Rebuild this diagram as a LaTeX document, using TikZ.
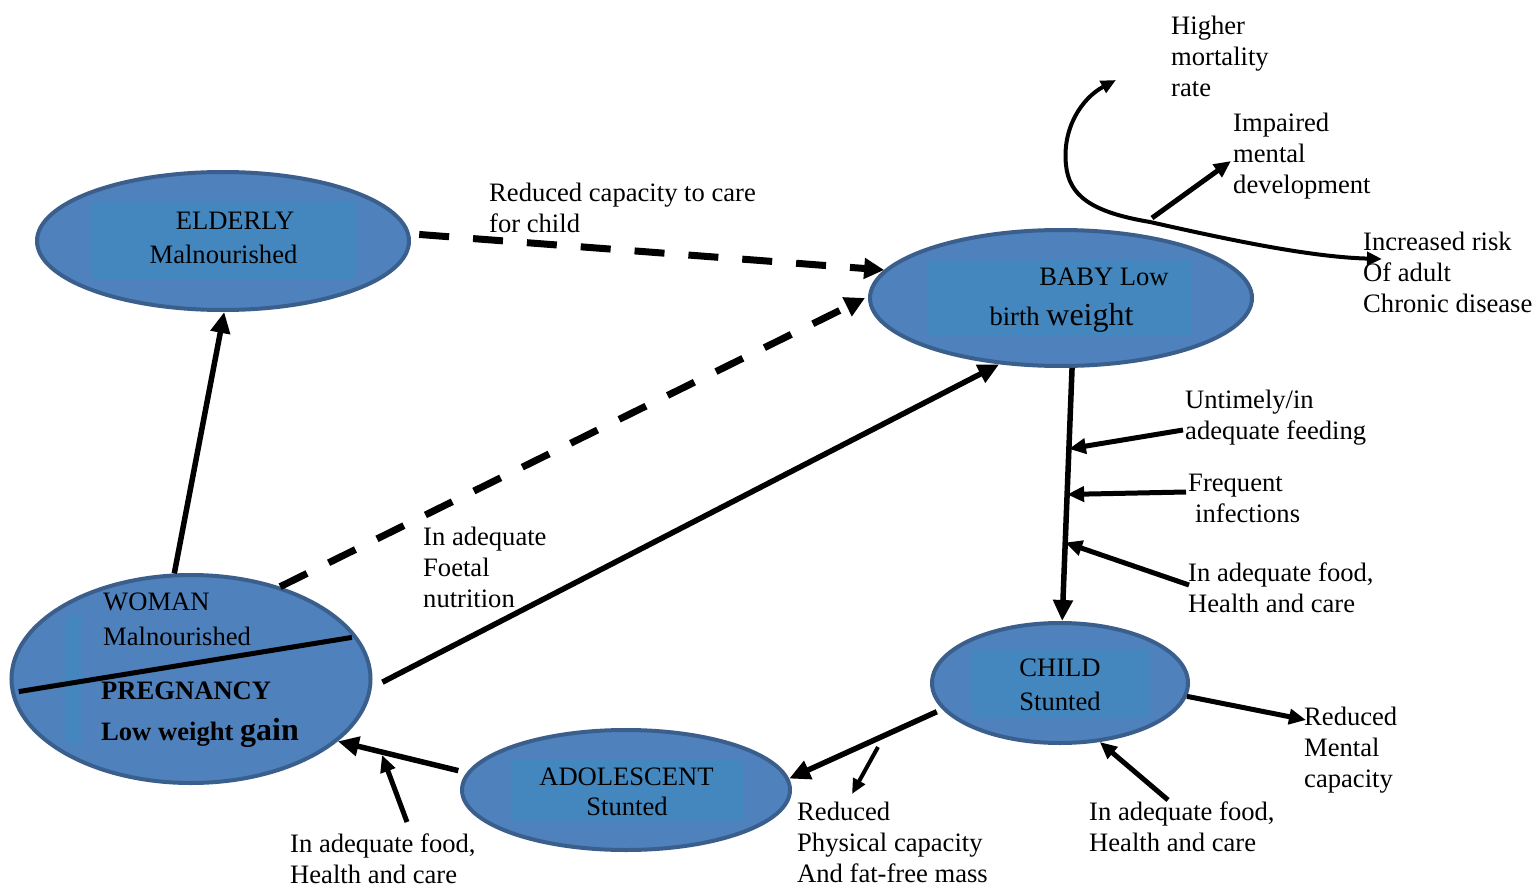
\documentclass[tikz,border=0pt]{standalone}
\usepackage{fontspec}
\setmainfont{Liberation Serif}
\usetikzlibrary{arrows.meta,shapes.geometric,calc}
\definecolor{ellfill}{HTML}{4F81BD}
\definecolor{ellinner}{HTML}{4387BE}
\definecolor{elledge}{HTML}{3B5F8C}
\begin{document}
\begin{tikzpicture}[x=1pt,y=-1pt,
  stage/.style={ellipse, draw=elledge, line width=4pt, fill=ellfill, inner sep=0pt},
  lbl/.style={inner sep=0pt, font=\fontsize{26.6}{31}\selectfont, align=left, anchor=north west},
  etext/.style={inner sep=0pt, font=\fontsize{26.6}{31}\selectfont, anchor=base},
  wtext/.style={inner sep=0pt, font=\fontsize{26.6}{31}\selectfont, anchor=base west},
  main/.style={line width=5.5pt, -{Triangle[length=21pt,width=19pt]}},
  feed/.style={line width=5pt, -{Triangle[length=17pt,width=15pt]}},
  thin/.style={line width=4pt, -{Triangle[length=15pt,width=13pt]}},
  dashline/.style={line width=7pt, dash pattern=on 30pt off 24pt, -{Triangle[length=20pt,width=20pt]}},
]
\useasboundingbox (0,0) rectangle (1540,888);
\fill[white] (0,0) rectangle (1540,888);

% stages
\node[stage, minimum width=372pt, minimum height=138pt] (elderly) at (223,241) {};
\fill[ellinner] (92,202) rectangle (355,280);
\node[stage, minimum width=382pt, minimum height=136pt] (baby) at (1061,298) {};
\fill[ellinner] (928,260) rectangle (1192,336);
\node[stage, minimum width=359pt, minimum height=208pt] (woman) at (191,679) {};
\fill[ellinner] (65,615) rectangle (81,743);
\node[stage, minimum width=328pt, minimum height=120pt] (adolescent) at (626,790) {};
\fill[ellinner] (512,760) rectangle (743,822);
\node[stage, minimum width=256pt, minimum height=120pt] (child) at (1060,683) {};
\fill[ellinner] (972,650) rectangle (1150,717);

% stage texts
\node[etext] (eldA) at (235,229) {ELDERLY};
\node[etext] (eldB) at (223.5,263.5) {Malnourished};
\node[etext] (babyA) at (1104,285.5) {BABY Low};
\node[etext] (babyB) at (1061.5,325) {birth {\fontsize{32}{36}\selectfont weight}};
\node[wtext] (womA) at (103,610) {WOMAN};
\node[wtext] (womB) at (103,645.5) {Malnourished};
\node[wtext, font=\fontsize{26.6}{31}\selectfont\bfseries] (womC) at (101,699.3) {PREGNANCY};
\node[wtext, font=\fontsize{26.6}{31}\selectfont\bfseries] (womD) at (101,740) {Low weight {\fontsize{32}{36}\selectfont gain}};
\node[etext] (adoA) at (626.5,785) {ADOLESCENT};
\node[etext] (adoB) at (627,815) {Stunted};
\node[etext] (chA) at (1060,676.7) {CHILD};
\node[etext] (chB) at (1060,710) {Stunted};

% labels
\node[lbl] (capcare) at (489,183) {Reduced capacity to care\\for child};
\node[lbl] (higher) at (1171,16) {Higher\\mortality\\rate};
\node[lbl] (impaired) at (1233,113) {Impaired\\mental\\development};
\node[lbl] (increased) at (1363,232) {Increased risk\\Of adult\\Chronic disease};
\node[lbl] (untimely) at (1185,390) {Untimely/in\\adequate feeding};
\node[lbl] (frequent) at (1188,474) {Frequent\\\hspace{7pt}infections};
\node[lbl] (foodA) at (1188,563) {In adequate food,\\Health and care};
\node[lbl] (foetal) at (423,527) {In adequate\\Foetal\\nutrition};
\node[lbl] (redmental) at (1304,706.5) {Reduced\\Mental\\capacity};
\node[lbl] (foodB) at (1089,802) {In adequate food,\\Health and care};
\node[lbl] (redphys) at (797,802) {Reduced\\Physical capacity\\And fat-free mass};
\node[lbl] (foodC) at (290,834) {In adequate food,\\Health and care};

% woman divider
\draw[line width=5pt] ([xshift=8pt]woman.-176) -- ([xshift=-6pt]woman.14);

% main cycle
\draw[main] (woman.99) -- (elderly.-89);
\draw[dashline] ([xshift=9pt]elderly.2) -- (baby.171);
\draw[dashline] (woman.46) -- ([xshift=-3pt]baby.180);
\draw[main] ([xshift=10pt]woman.-1) -- (baby.-133);
\draw[main] (baby.-81) -- (child.88);
\draw[main] ([xshift=-8pt]child.-166) -- (adolescent.4);
\draw[main] ([xshift=-10pt]adolescent.173) -- (woman.-23);

% influences on baby -> child
\coordinate (fa) at ($(baby.-81)!0.32!(child.88)$);
\coordinate (fb) at ($(baby.-81)!0.5!(child.88)$);
\coordinate (fc) at ($(baby.-81)!0.69!(child.88)$);
\coordinate (sa) at (1183,430);
\coordinate (sb) at (1186,492);
\coordinate (sc) at (1189,585);
\draw[feed] (sa) -- (fa);
\draw[feed] (sb) -- (fb);
\draw[feed] (sc) -- (fc);

% other arrows
\coordinate (physS) at (878,747);
\coordinate (physE) at (852,794);
\draw[thin] (physS) -- (physE);
\coordinate (fcS) at (407,822);
\coordinate (fcE) at (382,755);
\draw[feed] (fcS) -- (fcE);
\coordinate (rmE) at (1306,720);
\draw[feed] (child.-6) -- (rmE);
\coordinate (fbS) at (1168,800);
\draw[feed] (fbS) -- (child.-56);
\coordinate (imS) at (1152,218);
\coordinate (imE) at (1231,161);
\draw[feed] (imS) -- (imE);

% outcome curve
\coordinate (cTop) at (1116,80);
\coordinate (cLeft) at (1066,165);
\coordinate (cMid) at (1150,222);
\coordinate (cEnd) at (1382,259);
\draw[line width=4pt, {Triangle[length=15pt,width=13pt]}-{Triangle[length=15pt,width=13pt]}]
  (cTop) .. controls (1082,98) and (1062,128) .. (cLeft)
  .. controls (1069,195) and (1090,212) .. (cMid)
  .. controls (1230,240) and (1310,257) .. (cEnd);
\end{tikzpicture}
\end{document}
